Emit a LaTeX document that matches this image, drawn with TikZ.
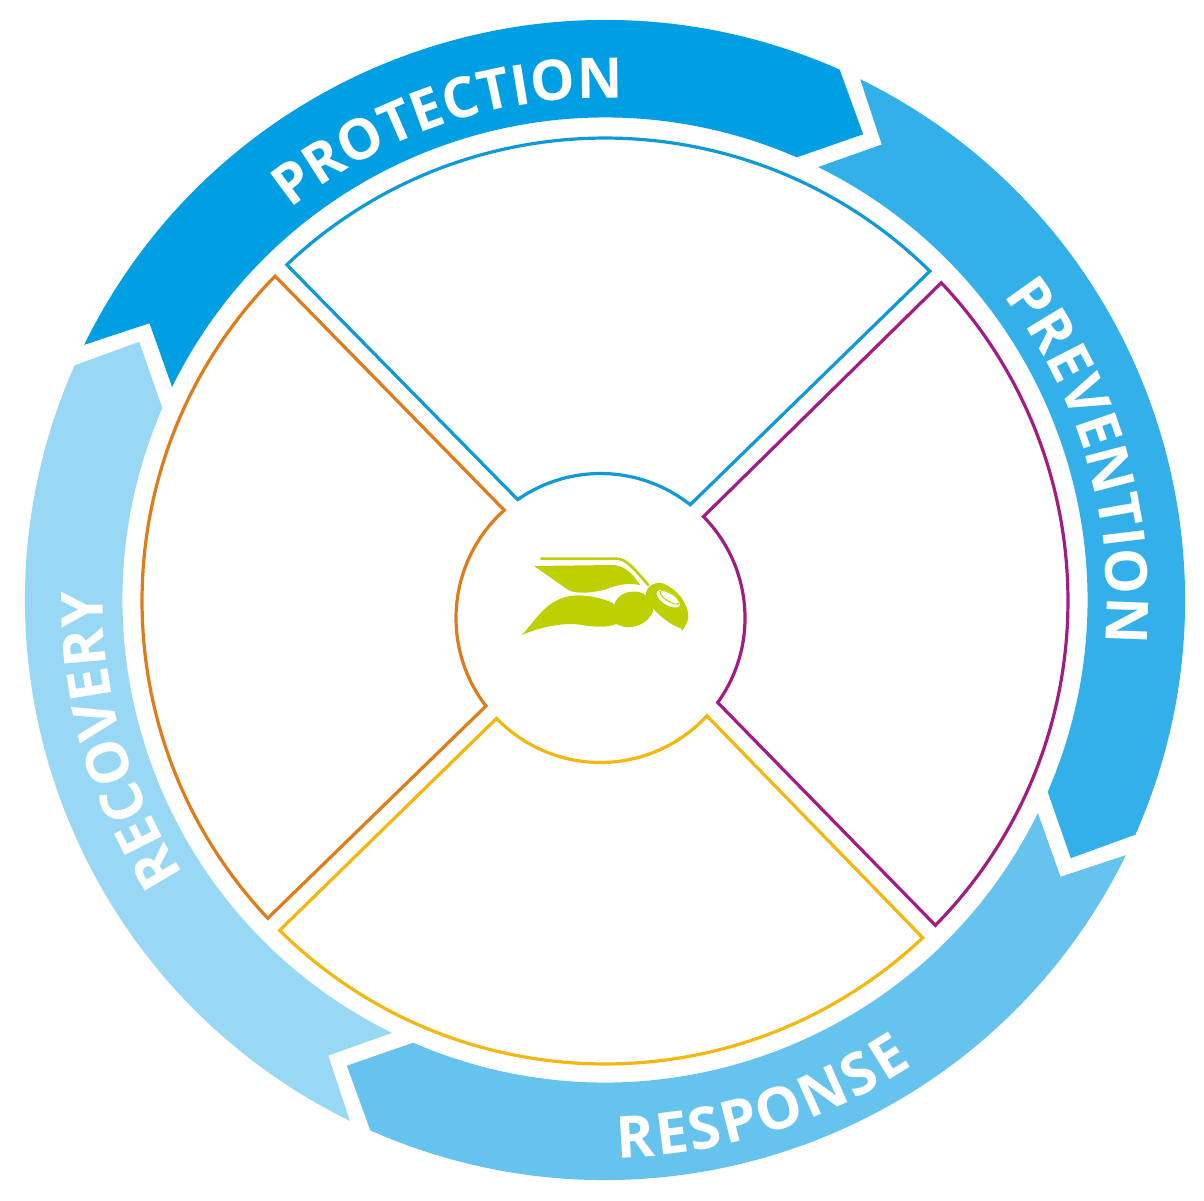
\documentclass[tikz,border=0pt]{standalone}
\usepackage{fontspec}
\setmainfont{Open Sans}
\usetikzlibrary{decorations.text}
\definecolor{cProt}{HTML}{009FE3}
\definecolor{cPrev}{HTML}{33B0E9}
\definecolor{cResp}{HTML}{66C3EE}
\definecolor{cReco}{HTML}{99D8F4}
\definecolor{cBlue}{HTML}{0E9AD7}
\definecolor{cPurple}{HTML}{A21C84}
\definecolor{cYellow}{HTML}{F4B70F}
\definecolor{cOrange}{HTML}{E07B1A}
\definecolor{cWasp}{HTML}{BDD000}
\newcommand{\ringtext}[2]{|\bfseries\fontsize{#1}{#1}\selectfont\color{white}|#2}
\tikzset{
  ringseg/.style={draw=none},
  sector/.style={fill=white,line width=3.2pt,line join=miter},
  curved/.style 2 args={decorate,decoration={text along path,text align={fit to path},text={\ringtext{#1}{#2}}}}
}
\begin{document}
\begin{tikzpicture}[x=1pt,y=1pt]
\useasboundingbox (0,-1201) rectangle (1204,0);
\fill[white] (0,-1201) rectangle (1204,0);
\coordinate (C) at (605,-600);
\coordinate (O) at (605,-601);
\coordinate (I) at (600.5,-618);
% ring segments
\foreach \r/\c in {0/cProt,-90/cPrev,-180/cResp,-270/cReco}{
  \fill[\c,ringseg,shift={(C)},rotate=\r]
    (153.9:580) arc[start angle=153.9,end angle=66.13,radius=580]
    -- (61:532.5) -- (66.57:482.5)
    arc[start angle=66.57,end angle=153.8,radius=482.5]
    -- (148.72:533) -- cycle;
}
% sectors
\draw[sector,draw=cBlue] ([shift={(133.42:463)}]O) arc[start angle=133.42,end angle=45.44,radius=463]
  -- ([shift={(51.62:144.5)}]I) arc[start angle=51.62,end angle=124.96,radius=144.5] -- cycle;
\draw[sector,draw=cPurple] ([shift={(43.42:463)}]O) arc[start angle=43.42,end angle=-44.47,radius=463]
  -- ([shift={(-35.8:144.5)}]I) arc[start angle=-35.8,end angle=44.57,radius=144.5] -- cycle;
\draw[sector,draw=cYellow] ([shift={(-46.67:463)}]O) arc[start angle=-46.67,end angle=-134.65,radius=463]
  -- ([shift={(-136:144.5)}]I) arc[start angle=-136,end angle=-42.6,radius=144.5] -- cycle;
\draw[sector,draw=cOrange] ([shift={(-136.75:463)}]O) arc[start angle=-136.75,end angle=-224.56,radius=463]
  -- ([shift={(131.75:144.5)}]I) arc[start angle=131.75,end angle=217.54,radius=144.5] -- cycle;
% texts
\path[curved={56}{PROTECTION}] ([shift={(128.7:503)}]O) arc[start angle=128.7,end angle=88.5,radius=503];
\path[curved={58}{PREVENTION}] ([shift={(37.5:502)}]O) arc[start angle=37.5,end angle=-4.0,radius=502];
\path[curved={58}{RESPONSE}] ([shift={(-88.7:557)}]O) arc[start angle=-88.7,end angle=-56.5,radius=557];
\path[curved={58}{RECOVERY}] ([shift={(213.0:502)}]O) arc[start angle=213.0,end angle=179.1,radius=502];
% wasp
\begin{scope}[shift={(480,-520)},xscale=1/3,yscale=-1/3]
  \draw[cWasp,line width=2.6pt,line cap=round] (184,116) -- (410,116) .. controls (440,116) and (465,150) .. (505,195);
  \fill[cWasp] (162,138) -- (400,135) .. controls (445,140) and (462,170) .. (480,195)
    .. controls (440,188) and (410,195) .. (380,207) .. controls (340,220) and (285,222) .. (265,210) -- cycle;
  \fill[cWasp] (125,345) .. controls (170,300) and (200,230) .. (290,226)
    .. controls (340,226) and (385,240) .. (403,253)
    .. controls (412,225) and (440,212) .. (470,215)
    .. controls (500,218) and (515,245) .. (520,272)
    .. controls (505,310) and (470,322) .. (440,322)
    .. controls (425,320) and (415,314) .. (408,312)
    .. controls (385,323) and (340,322) .. (300,314)
    .. controls (265,308) and (195,315) .. (125,345) -- cycle;
  \fill[cWasp] (497,225) .. controls (500,195) and (525,186) .. (548,190)
    .. controls (590,205) and (625,250) .. (625,290)
    .. controls (625,305) and (615,320) .. (607,332)
    -- (603,325) .. controls (570,315) and (535,285) .. (515,260)
    .. controls (500,245) and (495,235) .. (497,225) -- cycle;
  \fill[white,shift={(565,236)},rotate=32] (0,0) ellipse[x radius=40,y radius=19];
  \draw[cWasp,line width=1pt,shift={(569,232)},rotate=32] (0,0) ellipse[x radius=33,y radius=12];
\end{scope}
\end{tikzpicture}
\end{document}
